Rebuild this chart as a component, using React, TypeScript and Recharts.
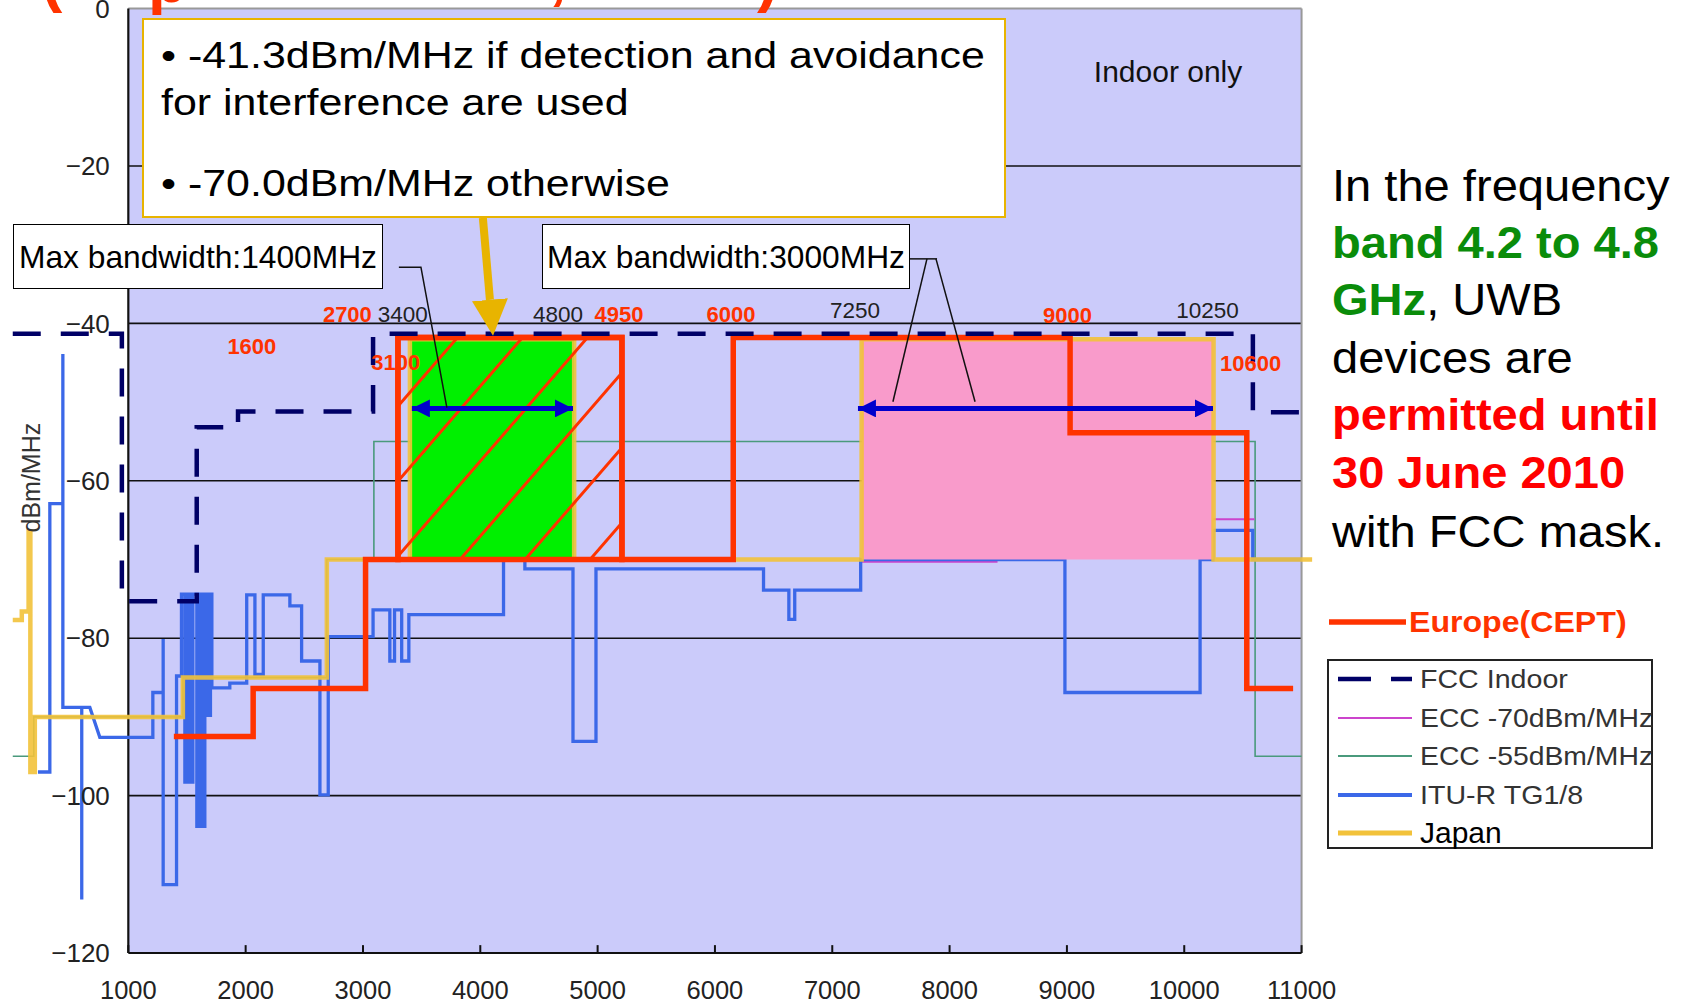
import React from 'react';
import {
  ComposedChart,
  Line,
  XAxis,
  YAxis,
  ReferenceArea,
  ReferenceLine,
  ReferenceDot,
  Legend,
} from 'recharts';

const FONT = '"Liberation Sans", Arial, Helvetica, sans-serif';

// ---------- axes ----------
const xTicks = [1000, 2000, 3000, 4000, 5000, 6000, 7000, 8000, 9000, 10000, 11000];
const yTicks = [0, -20, -40, -60, -80, -100, -120];
const gridLevels = [-20, -40, -60, -80, -100];

// ---------- series: [frequency MHz, dBm/MHz] ----------
const fccIndoor: number[][] = [
  [15, -41.3], [945, -41.3], [945, -75.3], [1583, -75.3], [1583, -53.2], [1935, -53.2],
  [1935, -51.2], [3086, -51.2], [3086, -41.3], [10585, -41.3], [10585, -51.3], [11000, -51.3],
];

const ecc70: number[][] = [
  [7250, -70.3], [8400, -70.3], [8400, -64.9], [10600, -64.9],
];

const ecc55: number[][] = [
  [15, -95], [194, -95], [194, -90], [1465, -90], [1465, -85], [2692, -85], [2692, -70],
  [3093, -70], [3093, -55], [10604, -55], [10604, -95], [11000, -95],
];

const ituR: number[][] = [
  [230, -97], [331, -97], [331, -62.9], [442, -62.9], [442, -43.9], [442, -88.8], [603, -88.8],
  [603, -113.2], [603, -88.8], [672, -88.8], [757, -92.6], [1209, -92.6], [1209, -86.9],
  [1297, -86.9], [1297, -80.1], [1297, -111.3], [1411, -111.3], [1411, -84.8], [1453, -84.8],
  [1453, -74.4], [1482, -74.4], [1482, -98.3], [1495, -98.3], [1495, -74.4], [1510, -74.4],
  [1510, -98.3], [1522, -98.3], [1522, -74.4], [1537, -74.4], [1537, -98.3], [1550, -98.3],
  [1550, -74.4], [1584, -74.4], [1584, -103.9], [1610, -103.9], [1610, -74.4], [1627, -74.4],
  [1627, -103.9], [1652, -103.9], [1652, -74.4], [1672, -74.4], [1672, -89.8], [1700, -89.8],
  [1700, -74.4], [1712, -74.4], [1712, -86.3], [1865, -86.3], [1865, -85.7], [2009, -85.7],
  [2009, -74.5], [2079, -74.5], [2079, -84.6], [2150, -84.6], [2150, -74.5], [2377, -74.5],
  [2377, -75.9], [2477, -75.9], [2477, -82.9], [2633, -82.9], [2633, -99.9], [2704, -99.9],
  [2704, -79.8], [3086, -79.8], [3086, -76.4], [3229, -76.4], [3229, -82.9], [3269, -82.9],
  [3269, -76.4], [3330, -76.4], [3330, -82.9], [3391, -82.9], [3391, -77.0], [4198, -77.0],
  [4198, -70], [4380, -70], [4380, -71.2], [4790, -71.2], [4790, -93.1], [4986, -93.1],
  [4986, -71.2], [6414, -71.2], [6414, -73.9], [6630, -73.9], [6630, -77.6], [6680, -77.6],
  [6680, -73.9], [7242, -73.9], [7242, -70], [8983, -70], [8983, -86.9], [10135, -86.9],
  [10135, -70], [10245, -70], [10245, -66.3], [10584, -66.3], [10584, -70], [11000, -70],
];

const japan: number[][] = [
  [15, -77.7], [92, -77.7], [92, -76.6], [150, -76.6], [150, -66.4], [165, -66.4], [165, -97],
  [203, -97], [203, -90], [1465, -90], [1465, -85], [2692, -85], [2692, -70], [3400, -70],
  [3400, -42], [4800, -42], [4800, -70], [7250, -70], [7250, -42], [10250, -42], [10250, -70],
  [11090, -70],
];

const europeCept: number[][] = [
  [1388, -92.5], [2064, -92.5], [2064, -86.4], [3022, -86.4], [3022, -70], [3298, -70],
  [3298, -41.8], [5207, -41.8], [5207, -70], [6156, -70], [6156, -41.8], [9027, -41.8],
  [9027, -53.9], [10533, -53.9], [10533, -86.4], [10928, -86.4],
];

// ---------- bands ----------
const greenBand = { from: 3400, to: 4800, low: -70, high: -42 };
const pinkBand = { from: 7250, to: 10250, low: -70, high: -42 };
const ceptDaaBand = { from: 3298, to: 5207, low: -70, high: -41.8 };

// max-bandwidth double arrows
const bw1400: number[][] = [[3417, -50.8], [4790, -50.8]];
const bw3000: number[][] = [[7219, -50.8], [10245, -50.8]];

// callout arrow and leader lines
const calloutArrow: number[][] = [[4022, -26.6], [4082, -37.0]];
const leader1400: number[][] = [[3306, -32.85], [3494, -32.85], [3715, -50.7]];
const leader3000a: number[][] = [[7662, -31.8], [7893, -31.8]];
const leader3000b: number[][] = [[7807, -31.8], [7517, -49.95]];
const leader3000c: number[][] = [[7884, -31.8], [8217, -49.95]];

// edge-frequency labels [text, frequency, level]
const edgeLabelsRed: [string, number, number][] = [
  ['2700', 2867, -38.8], ['4950', 5182, -38.8], ['6000', 6136, -38.8], ['9000', 9005, -38.9],
  ['1600', 2053, -42.9], ['3100', 3280, -44.9], ['10600', 10565, -45.1],
];
const edgeLabelsBlack: [string, number, number][] = [
  ['3400', 3340, -38.8], ['4800', 4662, -38.8], ['7250', 7194, -38.3], ['10250', 10198, -38.3],
];

const legendNames = ['FCC Indoor', 'ECC -70dBm/MHz', 'ECC -55dBm/MHz', 'ITU-R TG1/8', 'Japan'];

// ---------- styles ----------
const C = {
  fcc: '#000066',
  ecc70: '#cc44cc',
  ecc55: '#4a9a7c',
  itu: '#3b68e8',
  japan: '#f2c23a',
  cept: '#ff3300',
  green: '#00f000',
  pink: '#f99bcb',
  bg: '#cbcbfa',
  arrow: '#0000cc',
  gold: '#e8b400',
};

const legendStyle: Record<string, { color: string; width: number; dash?: string; text: string; size: number; stretch: number }> = {
  'FCC Indoor': { color: C.fcc, width: 4.5, dash: '33 20', text: '#333', size: 26, stretch: 1.1 },
  'ECC -70dBm/MHz': { color: C.ecc70, width: 2, text: '#333', size: 26, stretch: 1.09 },
  'ECC -55dBm/MHz': { color: C.ecc55, width: 2, text: '#333', size: 26, stretch: 1.09 },
  'ITU-R TG1/8': { color: C.itu, width: 4, text: '#333', size: 26, stretch: 1.1 },
  Japan: { color: C.japan, width: 5, text: '#000', size: 30, stretch: 1 },
};

const pts = (a: number[][]) => a.map(([x, y]) => ({ x, y }));

const yLabel = (v: number) => (v === 0 ? '0' : '\u2212' + Math.abs(v));

function TextLine(props: {
  x: number;
  baseline: number;
  size: number;
  color?: string;
  weight?: number;
  stretch?: number;
  children: React.ReactNode;
}) {
  const { x, baseline, size, color = '#000', weight = 400, stretch = 1, children } = props;
  return (
    <div
      style={{
        position: 'absolute',
        left: x,
        top: baseline - 0.8465 * size,
        fontSize: size,
        lineHeight: `${size}px`,
        color,
        fontWeight: weight,
        whiteSpace: 'nowrap',
        fontFamily: FONT,
        transform: stretch !== 1 ? `scaleX(${stretch})` : undefined,
        transformOrigin: '0 50%',
      }}
    >
      {children}
    </div>
  );
}

function LegendContent() {
  const rowH = 38.5;
  return (
    <div style={{ position: 'relative', width: 360, height: 255, fontFamily: FONT }}>
      <svg style={{ position: 'absolute', left: 0, top: 12 }} width={82} height={20}>
        <line x1={2} y1={10} x2={79} y2={10} stroke={C.cept} strokeWidth={5.5} />
      </svg>
      <div
        style={{
          position: 'absolute',
          left: 82,
          top: 6,
          fontSize: 30,
          lineHeight: '32px',
          fontWeight: 700,
          color: C.cept,
          whiteSpace: 'nowrap',
          transform: 'scaleX(1.07)',
          transformOrigin: '0 50%',
        }}
      >
        Europe(CEPT)
      </div>
      <div
        style={{
          position: 'absolute',
          left: 0,
          top: 59,
          width: 326,
          height: 190,
          boxSizing: 'border-box',
          border: '2px solid #222',
          background: '#fff',
        }}
      >
        {legendNames.map((name, i) => {
          const s = legendStyle[name];
          const cy = 18 + rowH * i;
          return (
            <React.Fragment key={name}>
              <svg style={{ position: 'absolute', left: 9, top: cy - 6 }} width={80} height={12}>
                <line x1={0} y1={6} x2={74} y2={6} stroke={s.color} strokeWidth={s.width} strokeDasharray={s.dash} />
              </svg>
              <div
                style={{
                  position: 'absolute',
                  left: 91,
                  top: cy - 19,
                  height: 38,
                  lineHeight: '38px',
                  fontSize: s.size,
                  color: s.text,
                  whiteSpace: 'nowrap',
                  transform: `scaleX(${s.stretch})`,
                  transformOrigin: '0 50%',
                }}
              >
                {name}
              </div>
            </React.Fragment>
          );
        })}
      </div>
    </div>
  );
}

export default function App() {
  const series = (
    key: string,
    data: number[][],
    stroke: string,
    width: number,
    z: number,
    extra: Record<string, unknown> = {},
  ) => (
    <Line
      key={key}
      name={key}
      data={pts(data)}
      dataKey="y"
      type="linear"
      stroke={stroke}
      strokeWidth={width}
      dot={false}
      activeDot={false}
      isAnimationActive={false}
      legendType="none"
      zIndex={z}
      {...extra}
    />
  );

  return (
    <div
      style={{
        position: 'absolute',
        left: 0,
        top: 0,
        width: 1683,
        height: 1005,
        background: '#fff',
        overflow: 'hidden',
        fontFamily: FONT,
      }}
    >
      <ComposedChart width={1683} height={1005} margin={{ top: 8.6, right: 369.7, bottom: 12, left: 11 }}>
        <defs>
          <pattern id="cept-hatch" patternUnits="userSpaceOnUse" x={35} y={0} width={65} height={75}>
            <line x1={0} y1={75} x2={65} y2={0} stroke={C.cept} strokeWidth={3} />
            <line x1={-6.5} y1={7.5} x2={6.5} y2={-7.5} stroke={C.cept} strokeWidth={3} />
            <line x1={58.5} y1={82.5} x2={71.5} y2={67.5} stroke={C.cept} strokeWidth={3} />
          </pattern>
          <marker id="blue-head" viewBox="0 0 10 10" refX={10} refY={5} markerWidth={3.6} markerHeight={3.6} orient="auto-start-reverse">
            <path d="M0,0 L10,5 L0,10 z" fill={C.arrow} />
          </marker>
          <marker id="gold-head" viewBox="0 0 10 10" refX={0} refY={5} markerWidth={4.5} markerHeight={4.5} orient="auto">
            <path d="M0,0 L10,5 L0,10 z" fill={C.gold} />
          </marker>
        </defs>

        <XAxis
          type="number"
          dataKey="x"
          domain={[0, 11100]}
          ticks={xTicks}
          interval={0}
          height={40}
          tickLine={false}
          axisLine={false}
          tickSize={0}
          tickMargin={28}
          tick={{ fontSize: 25.5, fill: '#222', fontFamily: FONT }}
        />
        <YAxis type="number" dataKey="y" domain={[-120, 0]} hide width={0} />

        {/* plot background */}
        <ReferenceArea x1={1000} x2={11000} y1={-120} y2={0} fill={C.bg} fillOpacity={1} stroke="none" zIndex={1} />

        {/* grid */}
        {gridLevels.map((v) => (
          <ReferenceLine
            key={`g${v}`}
            segment={[{ x: 1000, y: v }, { x: 11000, y: v }]}
            stroke="#111"
            strokeWidth={1.6}
            zIndex={2}
          />
        ))}
        {/* frame */}
        <ReferenceLine segment={[{ x: 1000, y: 0 }, { x: 11000, y: 0 }]} stroke="#999" strokeWidth={2} zIndex={3} />
        <ReferenceLine segment={[{ x: 11000, y: -120 }, { x: 11000, y: 0 }]} stroke="#999" strokeWidth={2} zIndex={3} />
        <ReferenceLine segment={[{ x: 1000, y: -120 }, { x: 11000, y: -120 }]} stroke="#111" strokeWidth={2.2} zIndex={3} />
        <ReferenceLine segment={[{ x: 1000, y: -120 }, { x: 1000, y: 0 }]} stroke="#111" strokeWidth={2.2} zIndex={3} />
        {xTicks.map((t) => (
          <ReferenceLine
            key={`t${t}`}
            segment={[{ x: t, y: -120 }, { x: t, y: -119 }]}
            stroke="#111"
            strokeWidth={2}
            zIndex={3}
          />
        ))}

        {series('ECC -55dBm/MHz', ecc55, C.ecc55, 1.6, 10)}
        {series('ECC -70dBm/MHz', ecc70, C.ecc70, 2, 11)}
        {series('ITU-R TG1/8', ituR, C.itu, 3.3, 12)}

        <ReferenceArea x1={greenBand.from} x2={greenBand.to} y1={greenBand.low} y2={greenBand.high} fill={C.green} fillOpacity={1} stroke="none" zIndex={20} />
        <ReferenceArea x1={pinkBand.from} x2={pinkBand.to} y1={pinkBand.low} y2={pinkBand.high} fill={C.pink} fillOpacity={1} stroke="none" zIndex={21} />

        {series('Japan', japan, C.japan, 4.5, 22, { strokeOpacity: 0.9 })}

        <ReferenceArea
          x1={ceptDaaBand.from}
          x2={ceptDaaBand.to}
          y1={ceptDaaBand.low}
          y2={ceptDaaBand.high}
          fill="url(#cept-hatch)"
          fillOpacity={1}
          stroke={C.cept}
          strokeWidth={5.5}
          zIndex={23}
        />

        {series('Europe(CEPT)', europeCept, C.cept, 5.5, 24)}
        {series('FCC Indoor', fccIndoor, C.fcc, 4.5, 25, { strokeDasharray: '28 20' })}

        {series('bw1400', bw1400, C.arrow, 5, 26, { markerStart: 'url(#blue-head)', markerEnd: 'url(#blue-head)' })}
        {series('bw3000', bw3000, C.arrow, 5, 26, { markerStart: 'url(#blue-head)', markerEnd: 'url(#blue-head)' })}
        {series('callout', calloutArrow, C.gold, 8, 27, { markerEnd: 'url(#gold-head)' })}
        {series('leader1400', leader1400, '#111', 1.5, 28)}
        {series('leader3000a', leader3000a, '#111', 1.5, 28)}
        {series('leader3000b', leader3000b, '#111', 1.5, 28)}
        {series('leader3000c', leader3000c, '#111', 1.5, 28)}

        {/* y tick labels */}
        {yTicks.map((v) => (
          <ReferenceDot
            key={`yl${v}`}
            x={1000}
            y={v}
            r={0}
            fill="none"
            stroke="none"
            zIndex={30}
            label={{ value: yLabel(v), position: 'left', offset: 18.5, fontSize: 26, fill: '#222', fontFamily: FONT }}
          />
        ))}

        {edgeLabelsRed.map(([t, f, v]) => (
          <ReferenceDot
            key={`r${t}`}
            x={f}
            y={v}
            r={0}
            fill="none"
            stroke="none"
            zIndex={30}
            label={{ value: t, position: 'center', fontSize: 22, fontWeight: 700, fill: C.cept, fontFamily: FONT }}
          />
        ))}
        {edgeLabelsBlack.map(([t, f, v]) => (
          <ReferenceDot
            key={`b${t}`}
            x={f}
            y={v}
            r={0}
            fill="none"
            stroke="none"
            zIndex={30}
            label={{ value: t, position: 'center', fontSize: 22.5, fill: '#222', fontFamily: FONT }}
          />
        ))}

        <ReferenceDot
          x={9862}
          y={-8}
          r={0}
          fill="none"
          stroke="none"
          zIndex={30}
          label={{ value: 'Indoor only', position: 'center', fontSize: 30, fill: '#111', fontFamily: FONT }}
        />
        <ReferenceDot
          x={169}
          y={-59.6}
          r={0}
          fill="none"
          stroke="none"
          zIndex={30}
          label={{ value: 'dBm/MHz', position: 'center', angle: -90, fontSize: 25, fill: '#333', fontFamily: FONT }}
        />

        <Legend
          layout="vertical"
          align="center"
          verticalAlign="middle"
          wrapperStyle={{ left: 1327, top: 600, width: 360, height: 255 }}
          content={() => <LegendContent />}
        />
      </ComposedChart>

      {/* cut-off title remnants */}
      <TextLine x={41} baseline={0} size={64} weight={700} color={C.cept}>(</TextLine>
      <TextLine x={148} baseline={2} size={64} weight={700} color={C.cept}>p</TextLine>
      <TextLine x={549} baseline={-3} size={64} weight={700} color={C.cept}>,</TextLine>
      <TextLine x={757} baseline={0} size={64} weight={700} color={C.cept}>)</TextLine>

      {/* callout box */}
      <div
        style={{
          position: 'absolute',
          left: 142,
          top: 18,
          width: 864,
          height: 200,
          boxSizing: 'border-box',
          border: `2.5px solid ${C.gold}`,
          background: '#fff',
        }}
      />
      <TextLine x={161} baseline={68} size={37} stretch={1.16}>• -41.3dBm/MHz if detection and avoidance</TextLine>
      <TextLine x={161} baseline={115} size={37} stretch={1.16}>for interference are used</TextLine>
      <TextLine x={161} baseline={196} size={37} stretch={1.16}>• -70.0dBm/MHz otherwise</TextLine>

      {/* max bandwidth boxes */}
      <div
        style={{
          position: 'absolute',
          left: 13,
          top: 224,
          width: 370,
          height: 65,
          boxSizing: 'border-box',
          border: '1.5px solid #000',
          background: '#fff',
        }}
      />
      <TextLine x={19} baseline={268.3} size={30.5} stretch={1.04}>Max bandwidth:1400MHz</TextLine>
      <div
        style={{
          position: 'absolute',
          left: 542,
          top: 224,
          width: 368,
          height: 65,
          boxSizing: 'border-box',
          border: '1.5px solid #000',
          background: '#fff',
        }}
      />
      <TextLine x={547} baseline={268.3} size={30.5} stretch={1.04}>Max bandwidth:3000MHz</TextLine>

      {/* side note */}
      <TextLine x={1332} baseline={201.7} size={44} stretch={1.07}>In the frequency</TextLine>
      <TextLine x={1332} baseline={258} size={44} stretch={1.07} weight={700} color="#0a8c0a">band 4.2 to 4.8</TextLine>
      <TextLine x={1332} baseline={315} size={44} stretch={1.07}>
        <span style={{ fontWeight: 700, color: '#0a8c0a' }}>GHz</span>, UWB
      </TextLine>
      <TextLine x={1332} baseline={373} size={44} stretch={1.07}>devices are</TextLine>
      <TextLine x={1332} baseline={430} size={44} stretch={1.07} weight={700} color="#ff0000">permitted until</TextLine>
      <TextLine x={1332} baseline={488} size={44} stretch={1.07} weight={700} color="#ff0000">30 June 2010</TextLine>
      <TextLine x={1332} baseline={547} size={44} stretch={1.07}>with FCC mask.</TextLine>
    </div>
  );
}
